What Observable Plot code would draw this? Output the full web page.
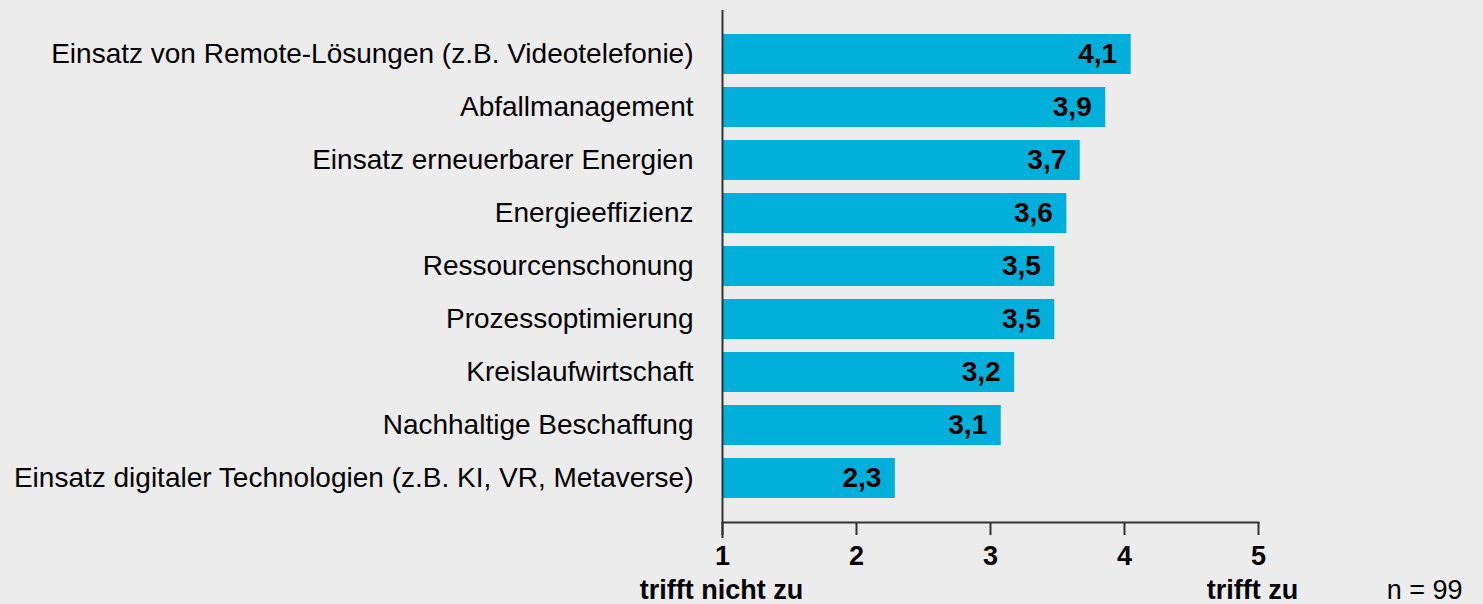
<!DOCTYPE html>
<html><head><meta charset="utf-8">
<script src="https://cdn.jsdelivr.net/npm/d3@7"></script>
<script src="https://cdn.jsdelivr.net/npm/@observablehq/plot@0.6"></script>
<style>
html,body{margin:0;padding:0;background:#ececec;overflow:hidden;}
</style></head><body><div id="chart"></div>
<script>
const categories = [
  "Einsatz von Remote-Lösungen (z.B. Videotelefonie)",
  "Abfallmanagement",
  "Einsatz erneuerbarer Energien",
  "Energieeffizienz",
  "Ressourcenschonung",
  "Prozessoptimierung",
  "Kreislaufwirtschaft",
  "Nachhaltige Beschaffung",
  "Einsatz digitaler Technologien (z.B. KI, VR, Metaverse)"
];
const values = [4.05, 3.86, 3.67, 3.57, 3.48, 3.48, 3.18, 3.08, 2.29];
const valueLabels = ["4,1", "3,9", "3,7", "3,6", "3,5", "3,5", "3,2", "3,1", "2,3"];
const xTicks = [1, 2, 3, 4, 5];
const scaleEndValues = [1, 5];
const scaleEndLabels = ["trifft nicht zu", "trifft zu"];
const sampleNote = "n = 99";

const data = categories.map((c, i) => ({category: c, value: values[i], label: valueLabels[i]}));
const font = "'Liberation Sans', Arial, Helvetica, sans-serif";

const plot = Plot.plot({
  width: 1483,
  height: 604,
  marginLeft: 722,
  marginRight: 225,
  marginTop: 21,
  marginBottom: 82,
  style: {background: "#ececec", fontFamily: font, color: "#000"},
  x: {domain: [1, 5]},
  y: {domain: categories, padding: 0.245, insetBottom: 11},
  marks: [
    Plot.barX(data, {x1: () => 1, x2: "value", y: "category", fill: "#00b0da"}),
    Plot.text(data, {x: "value", y: "category", text: "label", textAnchor: "end", dx: -14, fontSize: 28, fontWeight: "bold", fill: "#000"}),
    Plot.axisY({tickSize: 0, tickPadding: 29, fontSize: 28, label: null}),
    Plot.axisX({ticks: xTicks, tickSize: 13, tickPadding: 10, fontSize: 27, fontWeight: "bold", label: null, tickFormat: d => String(d), stroke: "#333", strokeWidth: 2}),
    Plot.frame({anchor: "bottom", stroke: "#333", strokeWidth: 2}),
    Plot.ruleX([1], {stroke: "#333", strokeWidth: 2, insetTop: -11, insetBottom: -16}),
    Plot.text([0], {x: () => scaleEndValues[0], text: () => scaleEndLabels[0], frameAnchor: "bottom", dy: 68, dx: -1, lineAnchor: "middle", fontSize: 27, fontWeight: "bold", fill: "#000"}),
    Plot.text([1], {x: () => scaleEndValues[1], text: () => scaleEndLabels[1], frameAnchor: "bottom", dy: 68, dx: -6, lineAnchor: "middle", fontSize: 27, fontWeight: "bold", fill: "#000"}),
    Plot.text([sampleNote], {text: d => d, frameAnchor: "bottom-right", dx: 204, dy: 68, textAnchor: "end", lineAnchor: "middle", fontSize: 27, fill: "#000"})
  ]
});
document.getElementById("chart").appendChild(plot);
</script>
</body></html>
